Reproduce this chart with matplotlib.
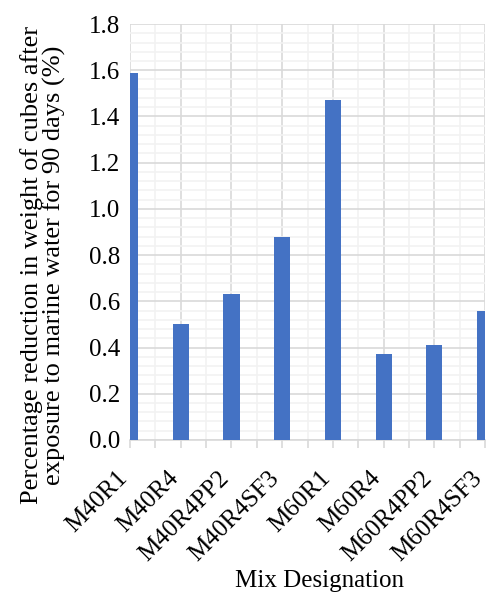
import matplotlib
matplotlib.use("Agg")
import matplotlib.pyplot as plt
from matplotlib.ticker import MultipleLocator, FormatStrFormatter
from matplotlib.transforms import ScaledTranslation

# data
mixes = ["M40R1", "M40R4", "M40R4PP2", "M40R4SF3", "M60R1", "M60R4", "M60R4PP2", "M60R4SF3"]
reduction = [1.59, 0.50, 0.63, 0.88, 1.47, 0.37, 0.41, 0.56]

plt.rcParams['font.family'] = ['Liberation Serif', 'DejaVu Serif']

fig = plt.figure(figsize=(4.87, 6.01), dpi=100)
ax = fig.add_axes([0.267, 0.268, 0.729, 0.692])

x = list(range(len(mixes)))
ax.bar(x, reduction, width=0.32, color="#4472C4", zorder=3)

ax.set_xlim(0, len(mixes) - 1)
ax.set_ylim(0, 1.8)

ax.set_xticks(x)
ax.set_xticklabels(mixes, rotation=45, ha="right", va="center", rotation_mode="anchor", fontsize=18)
ax.xaxis.set_minor_locator(MultipleLocator(0.5))
ax.yaxis.set_major_locator(MultipleLocator(0.2))
ax.yaxis.set_minor_locator(MultipleLocator(0.04))
ax.yaxis.set_major_formatter(FormatStrFormatter("%.1f"))
ax.tick_params(axis="y", which="both", length=0, labelsize=18, pad=7)
ax.tick_params(axis="x", which="both", direction="out", length=6, color="#D9D9D9", width=1.2, pad=19)

# x labels a bit to the left
shift = ScaledTranslation(-6 / 100, 0, fig.dpi_scale_trans)
for lbl in ax.get_xticklabels():
    lbl.set_transform(lbl.get_transform() + shift)

ax.grid(which="major", color="#D9D9D9", linewidth=1.2, zorder=0)
ax.grid(which="minor", color="#F2F2F2", linewidth=1.2, zorder=0)

for s in ["top", "right", "left"]:
    ax.spines[s].set_visible(False)
ax.spines["bottom"].set_color("#D9D9D9")
ax.spines["bottom"].set_linewidth(1.2)

ax.set_ylabel("Percentage reduction in weight of cubes after\nexposure to marine water for 90 days (%)",
              fontsize=19, linespacing=1.0)
ax.yaxis.set_label_coords(-0.18, 0.42)
ax.set_xlabel("Mix Designation", fontsize=18)
ax.xaxis.set_label_coords(0.535, -0.312)

fig.savefig("out.png", dpi=100)
